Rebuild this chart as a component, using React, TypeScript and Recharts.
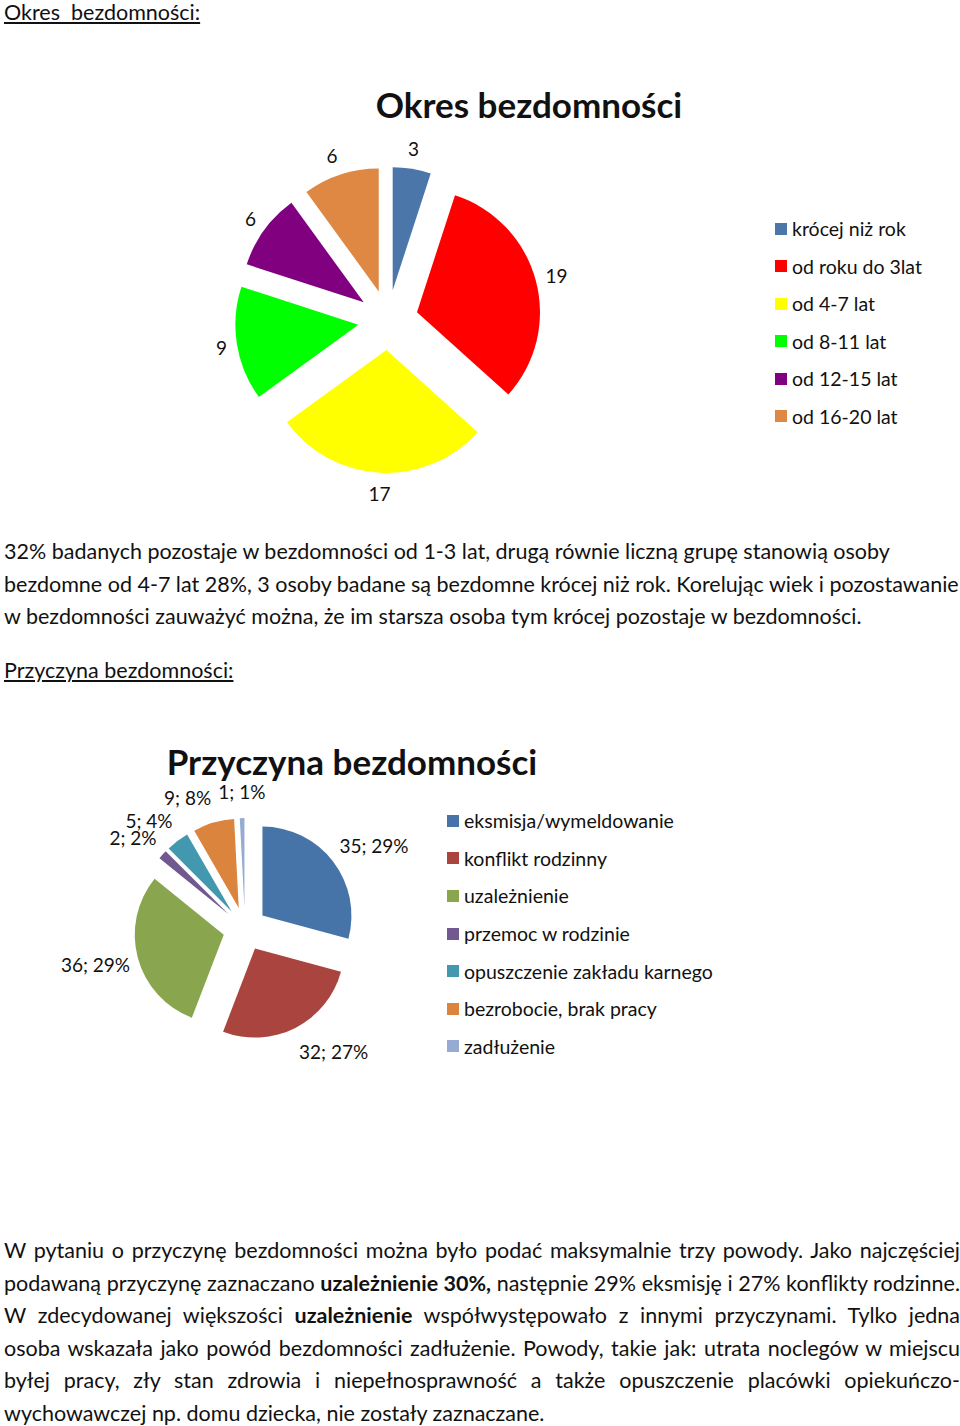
import React from "react";
import { PieChart, Pie, Sector, Legend } from "recharts";

const FONT = "Lato, 'Open Sans', sans-serif";
const RAD = Math.PI / 180;

// Okres bezdomności
const OKRES_NAMES = ["krócej niż rok", "od roku do 3lat", "od 4-7 lat", "od 8-11 lat", "od 12-15 lat", "od 16-20 lat"];
const OKRES_VALUES = [3, 19, 17, 9, 6, 6];
const OKRES_COLORS = ["#4A76AA", "#FF0000", "#FFFF00", "#00FF00", "#800080", "#DE8844"];

// Przyczyna bezdomności
const PRZYCZYNA_NAMES = [
  "eksmisja/wymeldowanie",
  "konflikt rodzinny",
  "uzależnienie",
  "przemoc w rodzinie",
  "opuszczenie zakładu karnego",
  "bezrobocie, brak pracy",
  "zadłużenie",
];
const PRZYCZYNA_VALUES = [35, 32, 36, 2, 5, 9, 1];
const PRZYCZYNA_PCT = ["29%", "27%", "29%", "2%", "4%", "8%", "1%"];
const PRZYCZYNA_COLORS = ["#4674A8", "#A9443F", "#89A54E", "#71588F", "#4198AF", "#DB843D", "#95ABD2"];

const okresData = OKRES_NAMES.map((name, i) => ({ name, value: OKRES_VALUES[i] }));
const przyczynaData = PRZYCZYNA_NAMES.map((name, i) => ({ name, value: PRZYCZYNA_VALUES[i] }));

const NO_MARGIN = { top: 0, right: 0, bottom: 0, left: 0 };

// exploded slice + outside-end label, drawn from the pie's own geometry
function explodedSlice(
  colors: string[],
  explode: number,
  pad: number,
  fontSize: number,
  vFactor: number,
  text: (i: number) => string,
) {
  return (props: any) => {
    const { cx, cy, innerRadius, outerRadius, startAngle, endAngle, index } = props;
    const mid = (startAngle + endAngle) / 2;
    const dx = Math.cos(-mid * RAD);
    const dy = Math.sin(-mid * RAD);
    const ox = cx + explode * dx;
    const oy = cy + explode * dy;
    const label = text(index);
    const r = outerRadius + pad;
    const px = ox + r * dx;
    const py = oy + r * dy;
    // label box sits beside the edge point, like "outside end" labels
    const anchor = dx > 0.2 ? "start" : dx < -0.2 ? "end" : "middle";
    return (
      <g>
        <Sector
          cx={ox}
          cy={oy}
          innerRadius={innerRadius}
          outerRadius={outerRadius}
          startAngle={startAngle}
          endAngle={endAngle}
          fill={colors[index]}
          stroke="none"
        />
        <text
          x={px}
          y={py + fontSize * vFactor * dy}
          textAnchor={anchor}
          dominantBaseline="central"
          fontSize={fontSize}
          fontFamily={FONT}
          fill="#111"
        >
          {label}
        </text>
      </g>
    );
  };
}

function ListLegend({ names, colors, rowH, fontSize }: { names: string[]; colors: string[]; rowH: number; fontSize: number }) {
  return (
    <div style={{ fontFamily: FONT, fontSize, color: "#111" }}>
      {names.map((n, i) => (
        <div key={n} style={{ display: "flex", alignItems: "center", height: rowH, whiteSpace: "nowrap" }}>
          <span style={{ display: "inline-block", width: 12, height: 12, background: colors[i], marginRight: 5 }} />
          <span>{n}</span>
        </div>
      ))}
    </div>
  );
}

const BODY = 21.5;

function Line({ y, children, justify, style }: { y: number; children: React.ReactNode; justify?: boolean; style?: React.CSSProperties }) {
  return (
    <div
      style={{
        position: "absolute",
        left: 4,
        top: y - 16,
        width: 956,
        height: 32,
        lineHeight: "32px",
        fontSize: BODY,
        whiteSpace: justify ? "normal" : "nowrap",
        textAlign: justify ? "justify" : "left",
        textAlignLast: justify ? "justify" : "left",
        ...style,
      }}
    >
      {children}
    </div>
  );
}

export default function App() {
  return (
    <div
      style={{
        position: "absolute",
        left: 0,
        top: 0,
        width: 960,
        height: 1426,
        background: "#fff",
        fontFamily: FONT,
        color: "#111",
        overflow: "hidden",
      }}
    >
      <Line y={12} style={{ textDecoration: "underline", whiteSpace: "pre" }}>Okres  bezdomności:</Line>

      <div style={{ position: "absolute", left: 0, top: 40 }}>
        <PieChart width={960} height={480} margin={NO_MARGIN}>
          <Pie
            data={okresData}
            dataKey="value"
            nameKey="name"
            cx={388}
            cy={280}
            outerRadius={123}
            startAngle={90}
            endAngle={-270}
            fill="none"
            stroke="none"
            labelLine={false}
            label={explodedSlice(OKRES_COLORS, 30, 10, 19, 0.55, (i) => String(OKRES_VALUES[i]))}
            isAnimationActive={false}
          />
          <Legend
            layout="vertical"
            align="right"
            verticalAlign="top"
            wrapperStyle={{ left: 775, top: 170, width: "auto" }}
            content={() => <ListLegend names={OKRES_NAMES} colors={OKRES_COLORS} rowH={37.5} fontSize={19.5} />}
          />
        </PieChart>
      </div>
      <div style={{ position: "absolute", left: 329, top: 82, width: 400, textAlign: "center", fontWeight: 700, fontSize: 35, lineHeight: "44px" }}>
        Okres bezdomności
      </div>

      <Line y={551}>32% badanych pozostaje w bezdomności od 1-3 lat, drugą równie liczną grupę stanowią osoby</Line>
      <Line y={584}>bezdomne od 4-7 lat 28%, 3 osoby badane są bezdomne krócej niż rok. Korelując wiek i pozostawanie</Line>
      <Line y={616}>w bezdomności zauważyć można, że im starsza osoba tym krócej pozostaje w bezdomności.</Line>

      <Line y={670} style={{ textDecoration: "underline" }}>Przyczyna bezdomności:</Line>

      <div style={{ position: "absolute", left: 0, top: 720 }}>
        <PieChart width={960} height={400} margin={NO_MARGIN}>
          <Pie
            data={przyczynaData}
            dataKey="value"
            nameKey="name"
            cx={245}
            cy={209}
            outerRadius={89}
            startAngle={90}
            endAngle={-270}
            fill="none"
            stroke="none"
            labelLine={false}
            label={explodedSlice(PRZYCZYNA_COLORS, 22, 8, 19, 0.95, (i) => `${PRZYCZYNA_VALUES[i]}; ${PRZYCZYNA_PCT[i]}`)}
            isAnimationActive={false}
          />
          <Legend
            layout="vertical"
            align="right"
            verticalAlign="top"
            wrapperStyle={{ left: 447, top: 82, width: "auto" }}
            content={() => <ListLegend names={PRZYCZYNA_NAMES} colors={PRZYCZYNA_COLORS} rowH={37.6} fontSize={19.5} />}
          />
        </PieChart>
      </div>
      <div style={{ position: "absolute", left: 152, top: 739, width: 400, textAlign: "center", fontWeight: 700, fontSize: 35, lineHeight: "44px" }}>
        Przyczyna bezdomności
      </div>

      <Line y={1250} justify>W pytaniu o przyczynę bezdomności można było podać maksymalnie trzy powody. Jako najczęściej</Line>
      <Line y={1283} justify>
        podawaną przyczynę zaznaczano <b>uzależnienie 30%,</b> następnie 29% eksmisję i 27% konflikty rodzinne.
      </Line>
      <Line y={1315} justify>
        W zdecydowanej większości <b>uzależnienie</b> współwystępowało z innymi przyczynami. Tylko jedna
      </Line>
      <Line y={1348} justify>osoba wskazała jako powód bezdomności zadłużenie. Powody, takie jak: utrata noclegów w miejscu</Line>
      <Line y={1380} justify>byłej pracy, zły stan zdrowia i niepełnosprawność a także opuszczenie placówki opiekuńczo-</Line>
      <Line y={1413}>wychowawczej np. domu dziecka, nie zostały zaznaczane.</Line>
    </div>
  );
}
